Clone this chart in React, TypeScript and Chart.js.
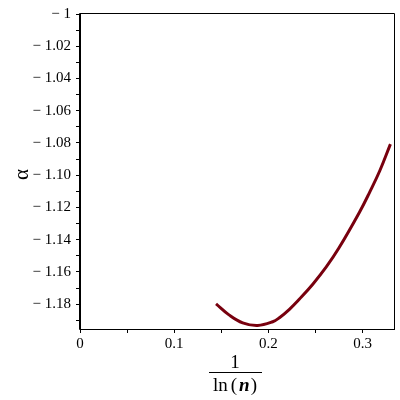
import React, { useEffect, useRef } from "react";
import { Chart, registerables } from "chart.js";

Chart.register(...registerables);

// 1/ln(n) values along the curve
const invLogN = [0.1444, 0.1585, 0.1727, 0.1886, 0.2046, 0.2117, 0.2223, 0.233, 0.2471, 0.2614, 0.2748, 0.2968, 0.3074, 0.3181, 0.3295];
// alpha values
const alphaValues = [-1.1798, -1.1868, -1.1916, -1.1932, -1.1909, -1.1884, -1.1832, -1.1768, -1.1676, -1.1569, -1.1452, -1.1228, -1.1106, -1.0974, -1.0807];

const xTicks = [0, 0.05, 0.1, 0.15, 0.2, 0.25, 0.3];
const xTickLabels = ["0", "", "0.1", "", "0.2", "", "0.3"];
const yTicks = [-1.19, -1.18, -1.17, -1.16, -1.15, -1.14, -1.13, -1.12, -1.11, -1.1, -1.09, -1.08, -1.07, -1.06, -1.05, -1.04, -1.03, -1.02, -1.01, -1];
const yTickLabels = ["", "\u2212 1.18", "", "\u2212 1.16", "", "\u2212 1.14", "", "\u2212 1.12", "", "\u2212 1.10", "", "\u2212 1.08", "", "\u2212 1.06", "", "\u2212 1.04", "", "\u2212 1.02", "", "\u2212 1"];

const yTitle = "\u03B1";
const xTitleTop = "1";
const xTitleParts = ["ln", "(", "n", ")"];

const SERIF = "'Liberation Serif', 'Times New Roman', serif";
const CURVE_COLOR = "#78000E";

export default function App() {
  const ref = useRef<HTMLCanvasElement | null>(null);

  useEffect(() => {
    const canvas = ref.current;
    if (!canvas) return;

    const framePlugin = {
      id: "frameAndTitles",
      afterDraw(chart: any) {
        const { ctx, chartArea } = chart;
        const { left, right, top, bottom } = chartArea;
        ctx.save();
        ctx.strokeStyle = "#000";
        ctx.lineWidth = 1;
        ctx.beginPath();
        ctx.rect(Math.round(left) - 0.5, Math.round(top) - 0.5, Math.round(right - left) + 1, Math.round(bottom - top) + 1);
        ctx.stroke();

        // y title
        ctx.fillStyle = "#000";
        ctx.font = `21px ${SERIF}`;
        ctx.textAlign = "center";
        ctx.textBaseline = "middle";
        ctx.translate(22, (top + bottom) / 2 + 3);
        ctx.rotate(-Math.PI / 2);
        ctx.fillText(yTitle, 0, 0);
        ctx.restore();

        // x title as a fraction
        ctx.save();
        ctx.fillStyle = "#000";
        ctx.strokeStyle = "#000";
        const cx = (left + right) / 2 - 2;
        ctx.font = `19px ${SERIF}`;
        ctx.textAlign = "center";
        ctx.textBaseline = "alphabetic";
        ctx.fillText(xTitleTop, cx, 368);
        ctx.lineWidth = 1;
        ctx.beginPath();
        ctx.moveTo(cx - 26, 372.5);
        ctx.lineTo(cx + 27, 372.5);
        ctx.stroke();

        const fonts = [`19px ${SERIF}`, `19px ${SERIF}`, `italic bold 19px ${SERIF}`, `19px ${SERIF}`];
        const gaps = [3, 2, 1, 0];
        let total = 0;
        const widths: number[] = [];
        xTitleParts.forEach((p, i) => {
          ctx.font = fonts[i];
          const w = ctx.measureText(p).width;
          widths.push(w);
          total += w + gaps[i];
        });
        let x = cx - total / 2;
        ctx.textAlign = "left";
        xTitleParts.forEach((p, i) => {
          ctx.font = fonts[i];
          ctx.fillText(p, x, 391);
          x += widths[i] + gaps[i];
        });
        ctx.restore();
      },
    };

    const chart = new Chart(canvas, {
      type: "line",
      data: {
        datasets: [
          {
            label: "alpha",
            data: invLogN.map((x, i) => ({ x, y: alphaValues[i] })),
            borderColor: CURVE_COLOR,
            borderWidth: 3,
            pointRadius: 0,
            fill: false,
            tension: 0.4,
          },
        ],
      },
      options: {
        responsive: false,
        animation: false,
        events: [],
        layout: { padding: { top: 12, right: 6, left: 0, bottom: 0 } },
        plugins: { legend: { display: false }, tooltip: { enabled: false } },
        scales: {
          x: {
            type: "linear",
            min: 0,
            max: 0.3333,
            afterBuildTicks: (scale: any) => {
              scale.ticks = xTicks.map((v) => ({ value: v }));
            },
            afterFit: (scale: any) => {
              scale.height = 71;
            },
            ticks: {
              color: "#000",
              font: { family: SERIF, size: 15 },
              padding: 2,
              maxRotation: 0,
              autoSkip: false,
              callback: (_v: any, i: number) => xTickLabels[i] ?? "",
            },
            grid: { drawOnChartArea: false, tickLength: 4, tickColor: "#000" },
            border: { display: true, color: "#000", width: 1 },
          },
          y: {
            type: "linear",
            min: -1.1954,
            max: -1,
            afterBuildTicks: (scale: any) => {
              scale.ticks = yTicks.map((v) => ({ value: v }));
            },
            afterFit: (scale: any) => {
              scale.width = 80;
            },
            ticks: {
              color: "#000",
              font: { family: SERIF, size: 15 },
              padding: 5,
              autoSkip: false,
              callback: (_v: any, i: number) => yTickLabels[i] ?? "",
            },
            grid: { drawOnChartArea: false, tickLength: 4, tickColor: "#000" },
            border: { display: true, color: "#000", width: 1 },
          },
        },
      },
      plugins: [framePlugin],
    } as any);

    return () => chart.destroy();
  }, []);

  return (
    <div style={{ position: "fixed", left: 0, top: 0, width: 400, height: 400, background: "#fff" }}>
      <canvas ref={ref} width={400} height={400} style={{ display: "block", width: 400, height: 400 }} />
    </div>
  );
}
